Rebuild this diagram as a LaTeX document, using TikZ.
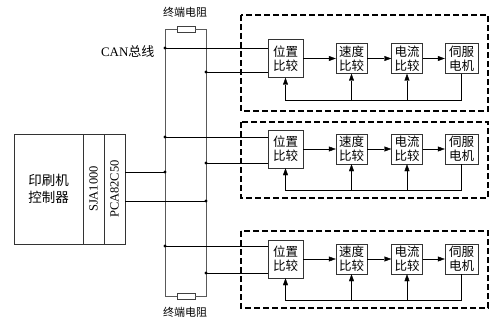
\documentclass[tikz,border=0pt]{standalone}
\usepackage{fontspec}
\setmainfont{Liberation Serif}
\newfontfamily\cjk{Noto Sans CJK SC}
\usetikzlibrary{arrows.meta}

\tikzset{
    blk/.style={draw=black!80, fill=white, align=center, inner sep=0pt,
        font=\cjk\fontsize{12.5}{14}\selectfont},
    posblk/.style={blk, minimum width=35pt, minimum height=38pt},
    ctlblk/.style={blk, minimum width=31pt, minimum height=30pt},
    grp/.style={draw=black, line width=1.1pt, dash pattern=on 6pt off 3pt},
    bus/.style={draw=black!65, line width=0.8pt},
    tap/.style={draw=black, line width=0.6pt},
    res/.style={draw=black!75, fill=white, minimum width=18pt, minimum height=6pt, inner sep=0pt},
    lbl/.style={font=\cjk\fontsize{11}{12}\selectfont}
}

\begin{document}
\begin{tikzpicture}[>={Triangle[length=7pt,width=5pt]}, x=1pt, y=-1pt]
    \useasboundingbox (0,0) rectangle (500,326);

    % Bus con resistenze di terminazione
    \coordinate (ltop) at (165,29.3);
    \coordinate (rtop) at (206,29.3);
    \coordinate (lbot) at (165,296);
    \coordinate (rbot) at (206,296);
    \node[res] (restop) at (186,29.3) {};
    \node[res] (resbot) at (186,296) {};
    \draw[bus] (restop.west) -- (ltop) -- (lbot) -- (resbot.west);
    \draw[bus] (restop.east) -- (rtop) -- (rbot) -- (resbot.east);
    \node[lbl] (restoplbl) at (185,12) {终端电阻};
    \node[lbl] (resbotlbl) at (185,312) {终端电阻};
    \node[anchor=east, font=\fontsize{13}{14}\selectfont] (canlbl) at (158,52) {CAN{\cjk 总线}};

    % Controllore
    \node[blk, minimum width=69pt, minimum height=110pt,
        font=\cjk\fontsize{13.5}{17}\selectfont] (ctrl) at (48.5,189) {印刷机\\控制器};
    \node[blk, minimum width=21pt, minimum height=110pt] (sja) at (93.5,189) {};
    \node[blk, minimum width=21pt, minimum height=110pt] (pca) at (114.5,189) {};
    \node[rotate=90, font=\fontsize{12.5}{14}\selectfont] (sjatxt) at (sja) {SJA1000};
    \node[rotate=90, font=\fontsize{12.5}{14}\selectfont] (pcatxt) at (pca) {PCA82C50};

    \coordinate (ca) at (165,172);
    \coordinate (cb) at (206,201);
    \draw[tap] (ca -| pca.east) -- (ca);
    \draw[tap] (cb -| pca.east) -- (cb);
    \fill (ca) circle (1.6);
    \fill (cb) circle (1.6);

    % Gruppi servo
    \foreach \g/\top/\bot/\yc/\fb/\ya/\yb in
        {1/15/111/58.5/100/48/72, 2/122/198/149/190/137/163, 3/231/308/259/300/246/273} {
        \draw[grp] (241,\top) rectangle (488,\bot);

        \node[posblk] (pos\g) at (285.5,\yc) {位置\\比较};
        \node[ctlblk] (spd\g) at (351.5,\yc) {速度\\比较};
        \node[ctlblk] (cur\g) at (407,\yc) {电流\\比较};
        \node[blk, minimum width=33pt, minimum height=30pt] (mot\g) at (461.5,\yc) {伺服\\电机};

        \draw[->] (pos\g.east) -- (spd\g.west);
        \draw[->] (spd\g.east) -- (cur\g.west);
        \draw[->] (cur\g.east) -- (mot\g.west);

        % Retroazione
        \coordinate (fb\g) at (0,\fb);
        \draw[->] (mot\g.south) |- (pos\g.south |- fb\g) -- (pos\g.south);
        \draw[->] (spd\g.south |- fb\g) -- (spd\g.south);
        \draw[->] (cur\g.south |- fb\g) -- (cur\g.south);

        % Derivazioni dal bus
        \coordinate (la\g) at (165,\ya);
        \coordinate (rb\g) at (206,\yb);
        \draw[tap] (la\g) -- (la\g -| pos\g.west);
        \draw[tap] (rb\g) -- (rb\g -| pos\g.west);
        \fill (la\g) circle (1.6);
        \fill (rb\g) circle (1.6);
    }
\end{tikzpicture}
\end{document}
